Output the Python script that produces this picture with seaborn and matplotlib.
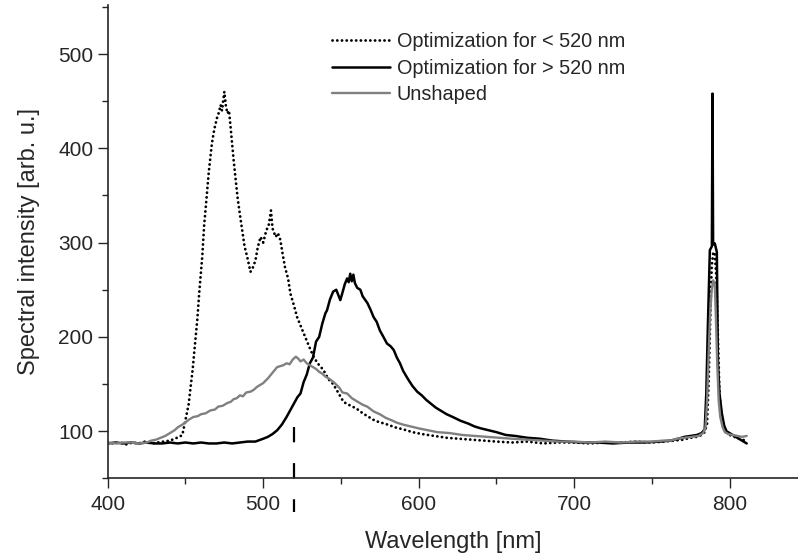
import matplotlib
matplotlib.use("Agg")
import matplotlib.pyplot as plt
import seaborn as sns
from matplotlib.ticker import MultipleLocator

# wavelength [nm] / intensity [arb. u.]
opt_low_nm = [400, 404, 408, 412, 416, 420, 424, 428, 432, 436, 440, 443, 446, 448, 450,
              452, 454.6, 456, 457.6, 459, 460.8, 462, 463.6, 465, 467, 468.5, 470.4, 471.5,
              472.6, 473.5, 475, 476, 477, 478, 479, 481, 483.5, 485, 486.5, 488, 489.7,
              491.8, 493, 495, 496.5, 498.3, 500, 502, 503.5, 505, 506, 508, 509.5, 511,
              512.5, 514, 516, 517.5, 520, 521.8, 524, 527, 530, 532.4, 535, 538.7, 542,
              545, 547.5, 551.7, 555, 560, 564, 568, 572, 576, 580, 585, 590, 596, 602,
              610, 618, 626, 634, 642, 650, 660, 670, 680, 690, 700, 710, 720, 730, 740,
              750, 758, 764, 770, 775, 779, 782, 784, 785.5, 786.5, 787.5, 788.5, 789.5,
              790.5, 791.5, 792.5, 793.5, 795, 797, 800, 803, 806, 808, 811]
opt_low_val = [88, 87, 88, 86, 88, 87, 89, 87, 88, 89, 90, 92, 94, 96, 112,
               128, 165, 190, 218, 250, 285, 318, 348, 375, 405, 420, 433, 438,
               446, 440, 460, 445, 437, 440, 423, 387, 348, 330, 313, 296, 285,
               269, 272, 281, 295, 306, 300, 313, 318, 334, 315, 306, 310, 303,
               288, 274, 262, 246, 232, 221, 212, 200, 188, 179, 172, 165, 155,
               150, 143, 131, 128, 124, 119, 115, 111, 109, 107, 104, 102, 99, 97,
               95, 93, 92, 91, 90, 89, 88, 89, 87, 88, 88, 87, 88, 88, 89,
               88, 89, 90, 91, 93, 94, 96, 99, 108, 150, 215, 275, 290,
               288, 262, 200, 140, 112, 100, 96, 94, 92, 91, 90]

opt_high_nm = [400, 405, 410, 415, 420, 425, 430, 435, 440, 445, 450, 455, 460, 465, 470,
               475, 480, 485, 490, 495, 500, 503, 506, 509, 512, 515, 518, 520, 522, 524,
               526, 528, 530, 532, 534, 536, 538, 540, 541, 543, 545, 547, 549.6, 551,
               552.5, 554, 555, 556, 557, 558, 559, 560.5, 562.5, 564, 567, 569, 571, 573,
               575, 577, 579.6, 582, 584, 586, 588, 590, 592.5, 594, 596, 599, 602, 605,
               608, 611, 614, 618, 622, 627, 632, 636, 640, 645, 650, 656, 662, 670, 678,
               686, 695, 705, 715, 725, 735, 745, 755, 762, 767, 771, 775, 779, 782, 784,
               785, 786, 787.3, 788.6, 789, 789.4, 790.5, 791.8, 792.5, 793.5, 795, 796.5,
               798, 800, 803, 806, 808, 811]
opt_high_val = [87, 88, 87, 88, 87, 88, 87, 87, 88, 87, 88, 87, 88, 87, 87,
                88, 87, 88, 89, 89, 92, 94, 97, 101, 107, 115, 124, 130, 136, 140,
                152, 160, 172, 178, 195, 200, 214, 225, 228, 240, 248, 250, 239, 247,
                256, 262, 258, 267, 259, 266, 257, 252, 250, 243, 236, 229, 221, 216,
                207, 201, 193, 190, 186, 178, 172, 164, 157, 153, 148, 142, 138, 133,
                129, 125, 122, 118, 115, 111, 108, 105, 103, 101, 99, 96, 95, 93, 92,
                90, 89, 88, 88, 87, 88, 88, 89, 90, 92, 94, 95, 96, 98, 102,
                140, 210, 292, 296, 458, 298, 299, 290, 172, 140, 119, 106,
                100, 98, 95, 92, 90, 87]

unshaped_nm = [400, 405, 410, 415, 420, 425, 428, 431, 434, 437, 440, 443, 445, 449, 452,
               455, 458, 460, 463, 466, 469, 471, 474, 477, 479, 481, 483, 485, 487, 489,
               492, 494, 496, 498, 500, 503, 506, 509, 511, 513, 515, 517, 519, 521, 522.5,
               524, 526, 528, 530, 532, 534, 536, 538, 540, 543, 546, 549, 551, 554, 557,
               560, 564, 567, 571, 575, 579, 582, 586, 590, 595, 600, 606, 612, 620, 628,
               636, 644, 652, 660, 670, 680, 690, 700, 710, 720, 730, 740, 750, 757, 762,
               766, 771, 776, 780, 783, 784.5, 785.5, 786.5, 787.5, 788.5, 789.5, 790.5,
               791.2, 792, 793, 794, 795.5, 797, 799, 802, 805, 808, 811]
unshaped_val = [88, 87, 88, 88, 87, 88, 90, 91, 93, 95, 98, 101, 104, 108, 112,
                115, 116, 118, 119, 122, 123, 126, 127, 130, 131, 134, 135, 138, 137, 141,
                142, 144, 147, 149, 151, 156, 162, 168, 169, 170, 172, 171, 176, 179, 177,
                174, 176, 172, 170, 168, 166, 163, 161, 158, 155, 151, 146, 141, 140, 135,
                132, 128, 126, 121, 118, 114, 112, 109, 107, 105, 103, 101, 99, 98, 96,
                95, 94, 93, 92, 91, 90, 89, 89, 88, 89, 88, 89, 89, 90, 90,
                92, 93, 94, 95, 98, 104, 130, 180, 225, 250, 260, 255,
                220, 175, 132, 115, 104, 99, 97, 96, 95, 94, 95]

sns.set_style("ticks")
plt.rcParams["font.family"] = ["Liberation Sans", "DejaVu Sans"]
plt.rcParams["lines.scale_dashes"] = False

fig = plt.figure(figsize=(7.98, 5.53), dpi=100)
ax = fig.add_axes([0.135, 0.135, 0.865, 0.856])

sns.lineplot(x=opt_low_nm, y=opt_low_val, sort=False, ax=ax, color="black",
             linewidth=2.0, linestyle=(0, (0.1, 3.3)), dash_capstyle="round",
             label="Optimization for < 520 nm")
sns.lineplot(x=opt_high_nm, y=opt_high_val, sort=False, ax=ax, color="black",
             linewidth=1.8, label="Optimization for > 520 nm")
sns.lineplot(x=unshaped_nm, y=unshaped_val, sort=False, ax=ax, color="#808080",
             linewidth=1.7, label="Unshaped")

# dashed marker at 520 nm crossing the axis
ax.plot([520, 520], [104, 14], color="black", linewidth=1.6,
        linestyle=(0, (11, 15)), clip_on=False)

ax.set_xlim(400, 844)
ax.set_ylim(50, 552)
ax.xaxis.set_major_locator(MultipleLocator(100))
ax.xaxis.set_minor_locator(MultipleLocator(50))
ax.yaxis.set_major_locator(MultipleLocator(100))
ax.yaxis.set_minor_locator(MultipleLocator(50))
ax.set_yticks([100, 200, 300, 400, 500])
ax.tick_params(which="major", length=7, width=1, labelsize=15, direction="out")
ax.tick_params(which="minor", length=4.5, width=1, direction="out")
ax.tick_params(axis="x", pad=5)
ax.spines["top"].set_visible(False)
ax.spines["right"].set_visible(False)
for side in ["left", "bottom"]:
    ax.spines[side].set_linewidth(1.2)

ax.set_xlabel("Wavelength [nm]", fontsize=17, labelpad=12)
ax.set_ylabel("Spectral intensity [arb. u.]", fontsize=17, labelpad=13)

ax.legend(loc="upper left", bbox_to_anchor=(0.299, 0.98), frameon=False,
          fontsize=14.3, handlelength=2.9, handletextpad=0.35, labelspacing=0.38)

fig.savefig("out.png", dpi=100)
